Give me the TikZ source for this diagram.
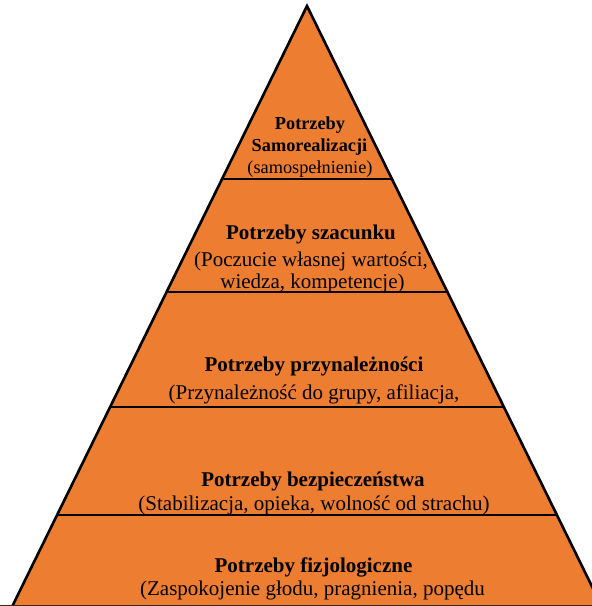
\documentclass[tikz,border=0pt]{standalone}
\usepackage{fontspec}
\setmainfont{Liberation Serif}
\usetikzlibrary{calc}
\definecolor{pyrorange}{HTML}{ED7D31}
\begin{document}
\begin{tikzpicture}[x=1pt,y=-1pt,
  title/.style={anchor=base,inner sep=0pt,font=\fontsize{21}{24}\selectfont\bfseries},
  desc/.style={anchor=base,inner sep=0pt,font=\fontsize{21}{24}\selectfont},
  toptitle/.style={anchor=base,inner sep=0pt,font=\fontsize{18.3}{22}\selectfont\bfseries},
  topdesc/.style={anchor=base,inner sep=0pt,font=\fontsize{18.3}{22}\selectfont},
  divider/.style={draw=black,line width=1.2pt}]
\useasboundingbox (0,0) rectangle (592,606);
\clip (0,0) rectangle (592,606);
\coordinate (apex) at (307,6);
\coordinate (bl) at (12.4,606);
\coordinate (br) at (601.6,606);
\fill[pyrorange] (bl) -- (apex) -- (br) -- cycle;
\draw[line width=2.6pt,line join=miter] (bl) -- (apex) -- (br);
\draw[line width=1pt,draw=black!70!pyrorange] (0,605.5) -- (592,605.5);
% dividers
\draw[divider] ($(apex)!0.2883!(bl)$) -- ($(apex)!0.2883!(br)$);
\draw[divider] ($(apex)!0.4767!(bl)$) -- ($(apex)!0.4767!(br)$);
\draw[divider] ($(apex)!0.6683!(bl)$) -- ($(apex)!0.6683!(br)$);
\draw[divider] ($(apex)!0.8483!(bl)$) -- ($(apex)!0.8483!(br)$);
% texts
\node[toptitle] (t1a) at (310,129) {Potrzeby};
\node[toptitle] (t1b) at (309.5,151) {Samorealizacji};
\node[topdesc] (d1) at (310,173) {(samospełnienie)};
\node[title] (t2) at (311,239) {Potrzeby szacunku};
\node[desc] (d2a) at (311,266.5) {(Poczucie własnej wartości,};
\node[desc] (d2b) at (312.5,288.5) {wiedza, kompetencje)};
\node[title] (t3) at (314,371.5) {Potrzeby przynależności};
\node[desc] (d3) at (314,399) {(Przynależność do grupy, afiliacja,};
\node[title] (t4) at (313,486) {Potrzeby bezpieczeństwa};
\node[desc] (d4) at (314,510) {(Stabilizacja, opieka, wolność od strachu)};
\node[title] (t5) at (313.5,572) {Potrzeby fizjologiczne};
\node[desc] (d5) at (312.5,595) {(Zaspokojenie głodu, pragnienia, popędu};
\end{tikzpicture}
\end{document}
